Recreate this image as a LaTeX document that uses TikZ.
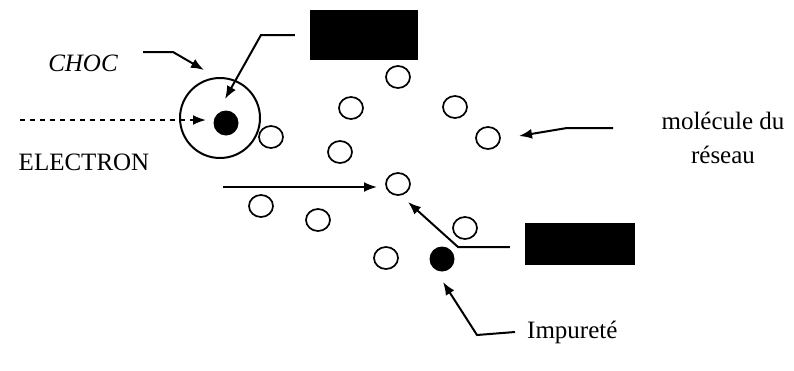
\documentclass[tikz,border=0pt]{standalone}
\usepackage{fontspec}
\setmainfont{Liberation Serif}
\usetikzlibrary{arrows.meta,shapes.geometric}
\begin{document}
\begin{tikzpicture}[x=1pt,y=-1pt,
  mol/.style={draw,line width=1.7pt,ellipse,minimum width=24pt,minimum height=22pt,inner sep=0pt},
  imp/.style={fill=black,circle,minimum size=25pt,inner sep=0pt},
  arr/.style={line width=2pt,-{Latex[length=13pt,width=10pt]}},
  lbl/.style={font=\fontsize{25}{34}\selectfont,inner sep=0pt,align=center},
  blk/.style={fill=black,draw=none}]
\useasboundingbox (0,0) rectangle (794,370);
% black boxes
\node[blk,minimum width=108pt,minimum height=50pt,inner sep=0pt] (box1) at (364,35) {};
\node[blk,minimum width=110pt,minimum height=42pt,inner sep=0pt] (box2) at (580,244) {};
% big circle
\node[draw,circle,line width=2pt,minimum size=80pt,inner sep=0pt] (choc) at (220,118) {};
\node[imp] (e1) at (226,123) {};
\node[imp] (imp) at (442,259) {};
% molecules
\node[mol] (m1) at (398,77) {};
\node[mol] (m2) at (351,108) {};
\node[mol] (m3) at (455,107) {};
\node[mol] (m4) at (271,137) {};
\node[mol] (m5) at (488,138) {};
\node[mol] (m6) at (340,152) {};
\node[mol] (m7) at (398,184) {};
\node[mol] (m8) at (261,206) {};
\node[mol] (m9) at (318,220) {};
\node[mol] (m10) at (465,228) {};
\node[mol] (m11) at (386,258) {};
% labels
\node[lbl,font=\fontsize{25}{34}\selectfont\itshape] (tchoc) at (83,63) {CHOC};
\node[lbl] (telec) at (84,162) {ELECTRON};
\node[lbl] (tmol) at (723,138) {molécule du\\réseau};
\node[lbl,anchor=west] (timp) at (527,332) {Impureté};
% arrows
\coordinate (c1) at (143,52);
\draw[arr] (c1) -- (173,52) -- (204,70);
\draw[arr] ([xshift=-15pt]box1.west) -- (261,35) -- (225,99);
\coordinate (d0) at (20,120);
\draw[arr,dash pattern=on 5pt off 5pt] (d0) -- (206,120);
\coordinate (s0) at (223,187);
\draw[arr] (s0) -- (377,187);
\coordinate (mm) at (613,128);
\draw[arr] (mm) -- (567,128) -- (519,136);
\draw[arr] ([xshift=-15pt,yshift=-3pt]box2.west) -- (458,247) -- (408,202);
\draw[arr] ([xshift=-12pt]timp.west) -- (477,335) -- (443,282);
\end{tikzpicture}
\end{document}
